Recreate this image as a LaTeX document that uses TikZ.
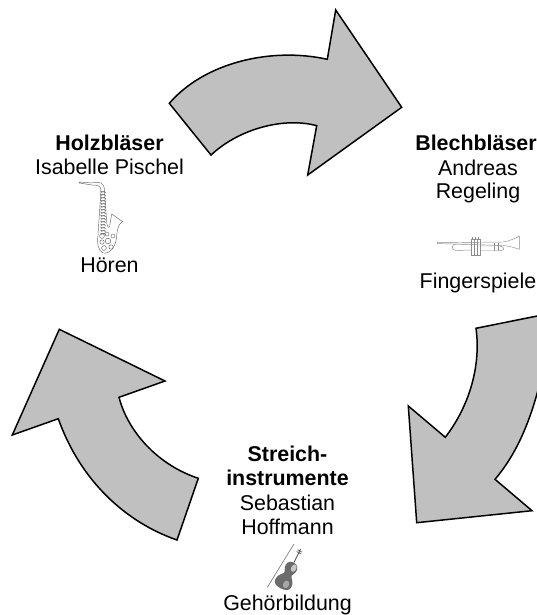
\documentclass[tikz,border=0pt]{standalone}
\usepackage{fontspec}
\setmainfont{Liberation Sans}
\definecolor{arrowgray}{HTML}{C0C0C0}
\tikzset{
  block/.style={draw=black,fill=arrowgray,line width=1.5pt,line join=miter},
  label/.style={anchor=base,inner sep=0pt,font=\fontsize{21.4}{24}\selectfont},
  boldlabel/.style={label,font=\fontsize{21.4}{24}\selectfont\bfseries},
  art/.style={draw=black!60,line width=0.45pt,fill=none},
  artlight/.style={draw=black!45,line width=0.45pt,fill=none}
}
\begin{document}
\begin{tikzpicture}[x=1pt,y=-1pt]
\useasboundingbox (0,0) rectangle (537,615);
\begin{scope}
\clip (0,0) rectangle (537,615);
% arrows
\draw[block] (169.3,103.3) .. controls (205,62) and (272,47) .. (327.3,59.3)
  -- (335.7,10) -- (401.7,107.3) -- (307.7,175) -- (316.7,125.7)
  .. controls (285,117) and (240,128) .. (211,155) -- cycle;
\draw[block] (560,311.4) -- (476,328.3)
  .. controls (481,365) and (470,405) .. (445.3,437.3)
  -- (408.3,406) -- (416.7,522.7) -- (532,510.7) -- (495,479.3)
  .. controls (520,450) and (535,410) .. (545,360) -- cycle;
\draw[block] (59.3,329.3) -- (165,381) -- (119,397.3)
  .. controls (128,432) and (158,465) .. (198.3,478.3)
  -- (177,540)
  .. controls (125,522) and (80,480) .. (58.3,418.7)
  -- (12.3,435) -- cycle;
% labels
\node[boldlabel] (holz) at (109.5,150) {Holzbläser};
\node[label] (isa) at (109.5,174) {Isabelle Pischel};
\node[label] (hoeren) at (109.5,272) {Hören};
\node[boldlabel] (blech) at (476,150) {Blechbläser};
\node[label] (andr) at (478,175) {Andreas};
\node[label] (rege) at (478,198) {Regeling};
\node[label] (fing) at (478,288) {Fingerspiele};
\node[boldlabel] (str) at (287.5,461) {Streich-};
\node[boldlabel] (ins) at (287.5,485) {instrumente};
\node[label] (seb) at (287.5,510) {Sebastian};
\node[label] (hof) at (287.5,534) {Hoffmann};
\node[label] (geh) at (287.5,610) {Gehörbildung};
% saxophone
\draw[art] (79.3,182) -- (92,183) .. controls (100,181) and (104,183) .. (104.5,190)
  .. controls (105.5,205) and (106,215) .. (107,224) .. controls (108,229) and (110,228) .. (110,224)
  .. controls (110.5,221) and (111,218) .. (111.7,214) -- (122.7,221.7)
  .. controls (118,224) and (117,230) .. (116.5,238) .. controls (115,248) and (110,254) .. (103,253)
  .. controls (98,251) and (97,243) .. (98,235) .. controls (99,220) and (100,205) .. (101,190)
  .. controls (100.5,186) and (98,185) .. (92,185) -- (79.3,183) -- cycle;
\foreach \yy in {191,194,...,233}{\draw[art] (100,\yy) -- (106,\yy+1.5) (101,\yy+1.5) -- (105,\yy);}
\foreach \cx/\cy/\rr in {102/236/2.4,107/234/2,102/242/2.2,108/241/2.8,104/248/2.4,111/247/2.2,113/236/2}{\draw[art] (\cx,\cy) circle (\rr pt);}
% trumpet
\draw[artlight] (437.3,242) -- (442,242.7) -- (503,242) .. controls (510,241) and (516,238) .. (519.3,236) -- (519.3,249.3)
  .. controls (515,248) and (510,246) .. (503,245.5) -- (442,243.7) -- (437.3,243.5) -- cycle;
\draw[artlight] (471.7,239) rectangle (480,255);
\draw[artlight] (474.5,239) -- (474.5,255) (477.2,239) -- (477.2,255);
\draw[artlight] (472.5,239) -- (472.5,237) (475.5,239) -- (475.5,237) (478.5,239) -- (478.5,237);
\draw[artlight] (471.7,250) -- (456,250.5) .. controls (451,250.5) and (451,244) .. (456,244) -- (471.7,244);
\draw[artlight] (480,246) -- (500,246) .. controls (505,247) and (505,251) .. (500,250.5) -- (480,250.5);
\draw[artlight] (498,243) -- (498,250.5) (494,243) -- (494,250.5);
% violin
\coordinate (bowa) at (294,544);
\coordinate (bowb) at (267.3,587.3);
\draw[draw=black!50,line width=0.7pt] (bowa) -- (bowb);
\begin{scope}[shift={(287.5,575)},rotate=-27]
  \fill[black!58] (0,-14) .. controls (-5,-14) and (-7,-10) .. (-6,-6)
    .. controls (-5.5,-3.5) and (-4,-3) .. (-4,-1) .. controls (-4,1) and (-9,3) .. (-9,9)
    .. controls (-9,14) and (-4,15) .. (0,15) .. controls (4,15) and (9,14) .. (9,9)
    .. controls (9,3) and (4,1) .. (4,-1) .. controls (4,-3) and (5.5,-3.5) .. (6,-6)
    .. controls (7,-10) and (5,-14) .. (0,-14) -- cycle;
  \fill[black!22] (2.5,-9) ellipse (2.6pt and 4pt);
  \fill[black!35] (3,9) ellipse (3pt and 4pt);
  \draw[draw=black!65,line width=0.9pt] (0,-14) -- (0,-26);
  \draw[draw=black!60,line width=0.8pt] (-2.5,-27) -- (2.5,-27) (-2.5,-25) -- (2.5,-25) (0,-24) -- (0,-29);
\end{scope}
\end{scope}
\end{tikzpicture}
\end{document}
